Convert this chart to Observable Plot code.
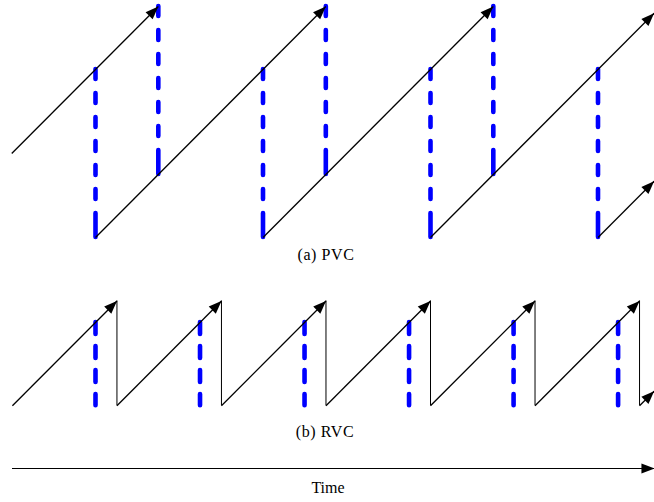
<!DOCTYPE html>
<html>
<head>
<meta charset="utf-8">
<script src="https://cdn.jsdelivr.net/npm/d3@7"></script>
<script src="https://cdn.jsdelivr.net/npm/@observablehq/plot@0.6"></script>
<style>
  body { margin: 0; background: #fff; }
  #wrap { position: relative; width: 654px; height: 502px; overflow: hidden;
          font-family: "Liberation Serif", "Times New Roman", serif; }
  .panel { position: absolute; left: 0; }
  .cap { position: absolute; font-size: 16px; line-height: 16px; color: #000;
         white-space: nowrap; transform: translateX(-50%); }
</style>
</head>
<body>
<div id="wrap"></div>
<script>
// ---------------- data ----------------
// (a) PVC : rising ramps (time t, value v)
const pvcRampStartT = [-0.5, 0, 1, 2, 3];
const pvcRampStartV = [0.5, 0, 0, 0, 0];
const pvcRampEndT   = [0.375, 1.375, 2.375, 3.335, 3.335];
const pvcRampEndV   = [1.375, 1.375, 1.375, 1.335, 0.335];
// (a) PVC : blue dashed resets at each period
const pvcResetT    = [0, 1, 2, 3];
const pvcResetHigh = [1, 1, 1, 1];
const pvcResetLow  = [0, 0, 0, 0];
// (a) PVC : blue dashed lines at the arrow tips
const pvcTipT    = [0.375, 1.375, 2.375];
const pvcTipHigh = [1.375, 1.375, 1.375];
const pvcTipLow  = [0.375, 0.375, 0.375];

// (b) RVC : rising ramps
const rvcRampStartT = [-0.496, 0.128, 0.752, 1.376, 2.0, 2.624, 3.248];
const rvcRampStartV = [0, 0, 0, 0, 0, 0, 0];
const rvcRampEndT   = [0.128, 0.752, 1.376, 2.0, 2.624, 3.248, 3.335];
const rvcRampEndV   = [0.624, 0.624, 0.624, 0.624, 0.624, 0.624, 0.087];
// (b) RVC : vertical drops back to zero
const rvcDropT    = [0.128, 0.752, 1.376, 2.0, 2.624, 3.248];
const rvcDropHigh = [0.624, 0.624, 0.624, 0.624, 0.624, 0.624];
const rvcDropLow  = [0, 0, 0, 0, 0, 0];
// (b) RVC : blue dashed sample instants
const rvcSampleT    = [0, 0.624, 1.248, 1.872, 2.496, 3.12];
const rvcSampleHigh = [0.496, 0.496, 0.496, 0.496, 0.496, 0.496];
const rvcSampleLow  = [0, 0, 0, 0, 0, 0];

// time axis
const timeAxisT = [-0.4955, 3.337];
const timeAxisY = [0.5];

// text
const captionA = "(a) PVC";
const captionB = "(b) RVC";
const timeLabel = "Time";

// ---------------- drawing ----------------
const W = 654;
const xScale = {domain: [-0.56716, 3.33731], range: [0, W], axis: null};
const BLUE = "#0000ff";
const arrowHead = {
  draw(ctx) {
    ctx.moveTo(0, 0);
    ctx.lineTo(-5, 13);
    ctx.lineTo(5, 13);
    ctx.closePath();
  }
};
const idx = (a) => d3.range(a.length);
const base = {width: W, marginTop: 0, marginRight: 0, marginBottom: 0, marginLeft: 0,
              style: {background: "transparent", overflow: "visible"}};

function ramps(st, sv, et, ev) {
  return [
    Plot.link(idx(st), {x1: st, y1: sv, x2: et, y2: ev, stroke: "#000", strokeWidth: 1.3}),
    Plot.dot(idx(st), {x: et, y: ev, symbol: arrowHead, rotate: 45, fill: "#000", stroke: "none"})
  ];
}
function dashed(t, hi, lo, dash) {
  return Plot.ruleX(t, {y1: hi, y2: lo, stroke: BLUE, strokeWidth: 4.6,
                        strokeDasharray: dash, strokeLinecap: "round"});
}
const longDash = "10,14,10,14,10,14,10,14,10,14,10,14,24,200";
const shortDash = "12,12";

const plotA = Plot.plot({
  ...base, height: 245,
  x: xScale,
  y: {domain: [-0.047619, 1.410714], range: [245, 0], axis: null},
  marks: [
    dashed(pvcResetT, pvcResetHigh, pvcResetLow, longDash),
    dashed(pvcTipT, pvcTipHigh, pvcTipLow, longDash),
    ...ramps(pvcRampStartT, pvcRampStartV, pvcRampEndT, pvcRampEndV)
  ]
});

const plotB = Plot.plot({
  ...base, height: 122,
  x: xScale,
  y: {domain: [-0.03988, 0.68631], range: [122, 0], axis: null},
  marks: [
    dashed(rvcSampleT, rvcSampleHigh, rvcSampleLow, shortDash),
    Plot.ruleX(rvcDropT, {y1: rvcDropHigh, y2: rvcDropLow, stroke: "#000", strokeWidth: 1}),
    ...ramps(rvcRampStartT, rvcRampStartV, rvcRampEndT, rvcRampEndV)
  ]
});

const plotC = Plot.plot({
  ...base, height: 20,
  x: xScale,
  y: {domain: [0, 1], range: [20, 0], axis: null},
  marks: [
    Plot.ruleY(timeAxisY, {x1: timeAxisT[0], x2: timeAxisT[1], stroke: "#000", strokeWidth: 1.2}),
    Plot.dot(timeAxisY, {x: timeAxisT[1], y: d => d, symbol: arrowHead, rotate: 90, fill: "#000", stroke: "none"})
  ]
});

const wrap = document.getElementById("wrap");
function place(el, top) { el.classList.add("panel"); el.style.top = top + "px"; wrap.appendChild(el); }
place(plotA, 0);
place(plotB, 290);
place(plotC, 458);

function caption(text, cx, top, spacing) {
  const d = document.createElement("div");
  d.className = "cap";
  d.textContent = text;
  d.style.left = cx + "px";
  d.style.top = top + "px";
  if (spacing) d.style.letterSpacing = spacing + "px";
  wrap.appendChild(d);
}
caption(captionA, 326, 246.5, 0.6);
caption(captionB, 325, 423.5, 0.6);
caption(timeLabel, 328, 479.5, 0);
</script>
</body>
</html>
